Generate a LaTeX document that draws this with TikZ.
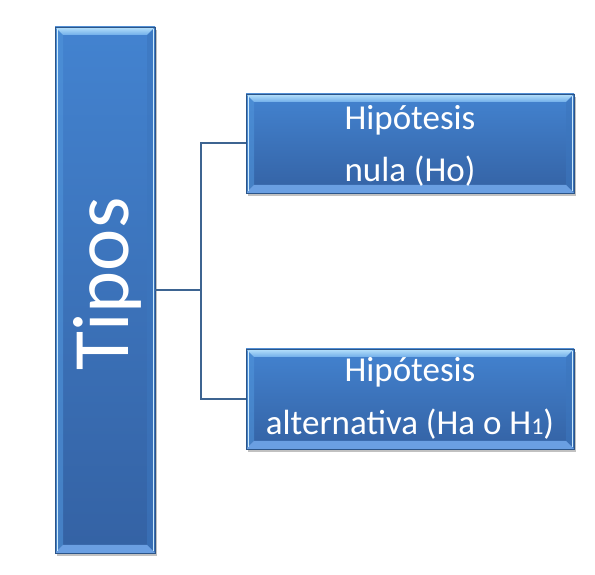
\documentclass[tikz,border=0pt]{standalone}
\usepackage{fontspec}
\setmainfont{Carlito}
\usetikzlibrary{shadows}
\definecolor{boxtop}{HTML}{4383D0}
\definecolor{boxbot}{HTML}{3462A4}
\definecolor{boxedge}{HTML}{2C5588}
\definecolor{bevhi}{HTML}{B8E2FB}
\definecolor{bevlo}{HTML}{70AEEA}
\definecolor{bevleft}{HTML}{5094DA}
\definecolor{bevright}{HTML}{3C76BE}
\definecolor{bevbot}{HTML}{6A9FE2}
\definecolor{linecol}{HTML}{3D6491}
\tikzset{
  bevelbox/.style={draw=boxedge, line width=0.6pt, top color=boxtop, bottom color=boxbot,
    inner sep=0pt, drop shadow={shadow xshift=2pt, shadow yshift=-3pt, opacity=0.35, fill=black!70},
    path picture={
      \def\bv{8pt}
      \path (path picture bounding box.north west) coordinate (pnw)
            (path picture bounding box.north east) coordinate (pne)
            (path picture bounding box.south west) coordinate (psw)
            (path picture bounding box.south east) coordinate (pse);
      \fill[bevleft, opacity=0.6] (pnw) -- ([shift={(\bv,-\bv)}]pnw) -- ([shift={(\bv,\bv)}]psw) -- (psw) -- cycle;
      \fill[bevright, opacity=0.6] (pne) -- ([shift={(-\bv,-\bv)}]pne) -- ([shift={(-\bv,\bv)}]pse) -- (pse) -- cycle;
      \shade[top color=bevhi, bottom color=bevlo] (pnw) -- (pne) -- ([shift={(-\bv,-\bv)}]pne) -- ([shift={(\bv,-\bv)}]pnw) -- cycle;
      \fill[bevbot] (psw) -- (pse) -- ([shift={(-\bv,\bv)}]pse) -- ([shift={(\bv,\bv)}]psw) -- cycle;
      \draw[bevhi!70, line width=0.8pt] ([shift={(2pt,-2pt)}]pnw) -- ([shift={(2pt,2pt)}]psw);
      \draw[bevhi!70, line width=0.8pt] ([shift={(-2pt,-2pt)}]pne) -- ([shift={(-2pt,2pt)}]pse);
    }},
  txt/.style={text=white, inner sep=0pt, font=\fontsize{35}{42}\selectfont},
  conn/.style={draw=linecol, line width=2pt}
}
\begin{document}
\begin{tikzpicture}[x=1pt,y=1pt]
\useasboundingbox (0,0) rectangle (595,575);
% left box
\node[bevelbox, minimum width=100pt, minimum height=526pt] (tipos) at (105,285) {};
\node[text=white, inner sep=0pt, font=\fontsize{80}{90}\selectfont, rotate=90, anchor=base] (tiposlbl) at (128,291) {Tipos};
% right boxes
\node[bevelbox, minimum width=328pt, minimum height=99pt] (h0) at (410,431.5) {};
\node[bevelbox, minimum width=328pt, minimum height=100pt] (h1) at (410,176) {};
\node[txt, anchor=base] (h0a) at (410,445) {Hipótesis};
\node[txt, anchor=base] (h0b) at (410,393) {nula (Ho)};
\node[txt, anchor=base] (h1a) at (410,193.3) {Hipótesis};
\node[txt, anchor=base] (h1b) at (410,140) {alternativa (Ha o H{\fontsize{24}{24}\selectfont 1})};
% connectors
\draw[conn] (tipos.east) -- ++(45.5,0) coordinate (j) |- (h0.west);
\draw[conn] (j) |- (h1.west);
\end{tikzpicture}
\end{document}
